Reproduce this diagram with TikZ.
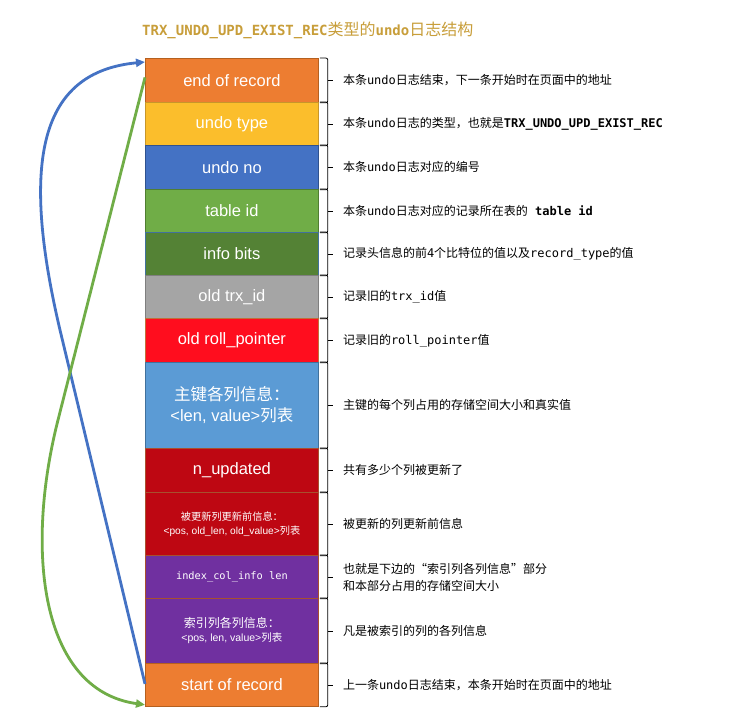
\documentclass[tikz,border=0pt]{standalone}
\usepackage{fontspec}
\setmainfont{Liberation Sans}
\newfontfamily\cjk{Noto Sans CJK SC}
\newfontfamily\mono{DejaVu Sans Mono}
\usetikzlibrary{arrows.meta}
\definecolor{cEor}{HTML}{ED7D31}\definecolor{bEor}{HTML}{B5601F}
\definecolor{cType}{HTML}{FBBE2C}\definecolor{bType}{HTML}{C7962A}
\definecolor{cNo}{HTML}{4472C4}\definecolor{bNo}{HTML}{2F528F}
\definecolor{cTab}{HTML}{70AD47}\definecolor{bTab}{HTML}{507E32}
\definecolor{cInfo}{HTML}{548235}\definecolor{bInfo}{HTML}{41719C}
\definecolor{cTrx}{HTML}{A5A5A5}\definecolor{bTrx}{HTML}{7F7F7F}
\definecolor{cRoll}{HTML}{FF0D1E}\definecolor{bRoll}{HTML}{C0703A}
\definecolor{cPk}{HTML}{5B9BD5}\definecolor{bPk}{HTML}{41719C}
\definecolor{cUpd}{HTML}{BE0712}\definecolor{bUpd}{HTML}{A8502E}
\definecolor{cIdx}{HTML}{7030A0}\definecolor{bIdx}{HTML}{A8502E}
\definecolor{titlegold}{HTML}{C89E3A}
\definecolor{arrBlue}{HTML}{4472C4}
\definecolor{arrGreen}{HTML}{70AD47}
\newcommand\mn[1]{{\mono #1}}
\newcommand\ck[1]{{\cjk #1}}
\begin{document}
\begin{tikzpicture}[x=1pt,y=-1pt,
  rowbox/.style={anchor=north west, minimum width=173pt, inner sep=0pt,
    text=white, line width=0.8pt, align=center,
    font=\fontsize{16.5}{21}\selectfont},
  bracket/.style={draw=black, line width=0.8pt, rounded corners=2pt},
  desc/.style={anchor=west, inner sep=0pt, align=left,
    font=\cjk\fontsize{12}{17}\selectfont},
  link/.style={line width=2.8pt, -{Triangle[length=9pt,width=8pt]}}]
\fill[white] (0,0) rectangle (738,713);
\useasboundingbox (0,0) rectangle (738,713);

\node[anchor=west, inner sep=0pt, text=titlegold,
  font=\cjk\fontsize{16}{16}\selectfont] (title) at (142,30)
  {\mn{\bfseries\fontsize{14}{14}\selectfont TRX\_UNDO\_UPD\_EXIST\_REC}类型的\mn{\bfseries\fontsize{14}{14}\selectfont undo}日志结构};

\node[rowbox, fill=cEor, draw=bEor, minimum height=44pt] (r1) at (145,58) {end of record};
\node[rowbox, fill=cType, draw=bType, minimum height=43pt] (r2) at (145,102) {undo type};
\node[rowbox, fill=cNo, draw=bNo, minimum height=44pt] (r3) at (145,145) {undo no};
\node[rowbox, fill=cTab, draw=bTab, minimum height=43pt] (r4) at (145,189) {table id};
\node[rowbox, fill=cInfo, draw=bInfo, minimum height=43pt] (r5) at (145,232) {info bits};
\node[rowbox, fill=cTrx, draw=bTrx, minimum height=43pt] (r6) at (145,275) {old trx\_id};
\node[rowbox, fill=cRoll, draw=bRoll, minimum height=44pt] (r7) at (145,318) {old roll\_pointer};
\node[rowbox, fill=cPk, draw=bPk, minimum height=86pt] (r8) at (145,362)
  {\ck{主键各列信息：}\\<len, value>\ck{列表}};
\node[rowbox, fill=cUpd, draw=bUpd, minimum height=44pt] (r9) at (145,448) {n\_updated};
\node[rowbox, fill=cUpd, draw=bUpd, minimum height=63pt,
  font=\fontsize{10.2}{14}\selectfont] (r10) at (145,492)
  {\ck{被更新列更新前信息：}\\<pos, old\_len, old\_value>\ck{列表}};
\node[rowbox, fill=cIdx, draw=bIdx, minimum height=43pt,
  font=\mono\fontsize{10.3}{12}\selectfont] (r11) at (145,555) {index\_col\_info len};
\node[rowbox, fill=cIdx, draw=bIdx, minimum height=65pt,
  font=\fontsize{10.5}{14}\selectfont] (r12) at (145,598)
  {{\cjk\fontsize{12}{14}\selectfont 索引列各列信息：}\\<pos, len, value>\ck{列表}};
\node[rowbox, fill=cEor, draw=bEor, minimum height=43pt] (r13) at (145,663) {start of record};

\foreach \i in {1,...,13}{
  \draw[bracket] ([xshift=1pt]r\i.north east) -- ([xshift=9pt]r\i.north east)
    -- ([xshift=9pt]r\i.south east) -- ([xshift=1pt]r\i.south east);
  \draw[bracket] ([xshift=9pt]r\i.east) -- ([xshift=14pt]r\i.east);
}

\node[desc] (d1) at ([xshift=24pt]r1.east) {本条\mn{undo}日志结束，下一条开始时在页面中的地址};
\node[desc] (d2) at ([xshift=24pt]r2.east) {本条\mn{undo}日志的类型，也就是\mn{\bfseries TRX\_UNDO\_UPD\_EXIST\_REC}};
\node[desc] (d3) at ([xshift=24pt]r3.east) {本条\mn{undo}日志对应的编号};
\node[desc] (d4) at ([xshift=24pt]r4.east) {本条\mn{undo}日志对应的记录所在表的\mn{\bfseries\ table id}};
\node[desc] (d5) at ([xshift=24pt]r5.east) {记录头信息的前\mn{4}个比特位的值以及\mn{record\_type}的值};
\node[desc] (d6) at ([xshift=24pt]r6.east) {记录旧的\mn{trx\_id}值};
\node[desc] (d7) at ([xshift=24pt]r7.east) {记录旧的\mn{roll\_pointer}值};
\node[desc] (d8) at ([xshift=24pt]r8.east) {主键的每个列占用的存储空间大小和真实值};
\node[desc] (d9) at ([xshift=24pt]r9.east) {共有多少个列被更新了};
\node[desc] (d10) at ([xshift=24pt]r10.east) {被更新的列更新前信息};
\node[desc] (d11) at ([xshift=24pt]r11.east) {也就是下边的“索引列各列信息”部分\\和本部分占用的存储空间大小};
\node[desc] (d12) at ([xshift=24pt]r12.east) {凡是被索引的列的各列信息};
\node[desc] (d13) at ([xshift=24pt]r13.east) {上一条\mn{undo}日志结束，本条开始时在页面中的地址};

\coordinate (bturn) at (60,330);
\coordinate (gturn) at (58,420);
\draw[link, draw=arrBlue] ([yshift=1pt]r13.west) -- (bturn)
  .. controls (20,160) and (40,72) .. ([yshift=-4pt]r1.north west);
\draw[link, draw=arrGreen] ([yshift=3pt]r1.west) -- (gturn)
  .. controls (25,550) and (40,690) .. ([yshift=2pt]r13.south west);
\end{tikzpicture}
\end{document}
